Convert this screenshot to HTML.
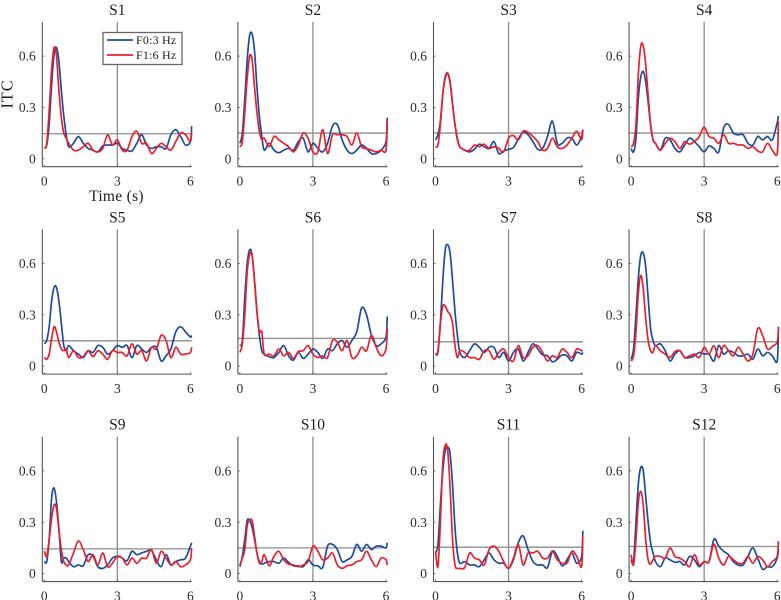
<!DOCTYPE html>
<html lang="en">
<head>
<meta charset="utf-8">
<title>ITC per subject</title>
<style>
html,body{margin:0;padding:0;background:#fff;}
svg{display:block;font-family:"Liberation Serif",serif;}
</style>
</head>
<body>
<svg id="chart" xmlns="http://www.w3.org/2000/svg" width="781" height="600" viewBox="0 0 781 600"></svg>
<script>
const subjects = ["S1","S2","S3","S4","S5","S6","S7","S8","S9","S10","S11","S12"];
const times = [0,.1,.2,.3,.4,.5,.6,.7,.8,.9,1,1.2,1.4,1.6,1.8,2,2.2,2.4,2.6,2.8,3,3.2,3.4,3.6,3.8,4,4.2,4.4,4.6,4.8,5,5.2,5.4,5.6,5.8,6,6.05];
const xTicks = [0,3,6];
const yTicks = [0,0.3,0.6];
const yTickLabels = ["0","0.3","0.6"];
const thresholds = [.146,.15,.15,.15,.148,.162,.142,.142,.144,.15,.154,.158];
const f0Series = [
 [.06,.08,.2,.43,.61,.65,.57,.4,.25,.14,.07,.09,.13,.09,.06,.05,.04,.075,.08,.08,.09,.06,.05,.045,.09,.14,.08,.06,.07,.07,.06,.14,.17,.13,.08,.1,.19],
 [.09,.15,.35,.58,.72,.73,.63,.42,.25,.13,.05,.09,.05,.035,.05,.06,.05,.1,.12,.04,.09,.06,.04,.09,.19,.2,.11,.05,.03,.05,.08,.06,.03,.03,.05,.1,.24],
 [.11,.14,.22,.38,.47,.5,.45,.32,.2,.11,.07,.05,.04,.055,.085,.07,.06,.1,.03,.045,.055,.065,.115,.155,.14,.1,.055,.06,.13,.22,.09,.09,.12,.12,.08,.13,.17],
 [.06,.04,.12,.36,.48,.51,.45,.33,.2,.11,.09,.05,.12,.11,.06,.04,.08,.12,.1,.07,.04,.075,.06,.04,.18,.2,.15,.14,.14,.09,.08,.13,.11,.13,.11,.21,.25],
 [.13,.15,.23,.38,.46,.46,.38,.25,.12,.09,.12,.09,.07,.05,.09,.08,.12,.11,.07,.09,.12,.11,.12,.05,.12,.1,.08,.11,.11,.03,.06,.1,.2,.23,.2,.17,.18],
 [.12,.15,.4,.6,.68,.65,.5,.32,.18,.09,.07,.055,.05,.08,.12,.06,.035,.08,.045,.07,.1,.08,.045,.1,.09,.13,.15,.11,.15,.2,.34,.3,.18,.12,.13,.17,.29],
 [.07,.08,.25,.5,.68,.71,.66,.5,.32,.18,.08,.05,.09,.13,.11,.08,.11,.11,.05,.08,.03,.08,.1,.03,.08,.13,.1,.065,.06,.025,.04,.065,.06,.03,.08,.07,.08],
 [.04,.1,.3,.52,.65,.66,.58,.4,.22,.15,.12,.13,.09,.03,.07,.09,.05,.05,.06,.08,.07,.07,.03,.12,.07,.09,.08,.06,.06,.07,.04,.1,.06,.08,.06,.03,.23],
 [.07,.07,.2,.44,.5,.42,.26,.07,.09,.09,.07,.04,.05,.045,.11,.1,.04,.03,.05,.09,.1,.09,.075,.13,.11,.12,.13,.135,.08,.04,.11,.05,.07,.08,.09,.16,.18],
 [.04,.1,.2,.31,.31,.27,.2,.12,.07,.055,.06,.07,.07,.06,.09,.065,.045,.045,.04,.08,.05,.045,.035,.16,.17,.14,.07,.08,.1,.17,.13,.17,.14,.16,.16,.15,.18],
 [.12,.17,.4,.6,.72,.74,.7,.52,.27,.12,.06,.07,.05,.05,.04,.08,.12,.08,.06,.06,.03,.08,.18,.22,.14,.07,.05,.05,.035,.13,.1,.045,.08,.12,.06,.1,.25],
 [.08,.07,.3,.53,.62,.6,.45,.3,.18,.12,.07,.04,.09,.08,.065,.07,.05,.1,.08,.04,.07,.07,.2,.16,.13,.11,.07,.05,.05,.1,.15,.09,.025,.04,.04,.09,.14]
];
const f1Series = [
 [.06,.09,.28,.52,.65,.6,.4,.24,.15,.12,.09,.05,.05,.07,.09,.05,.04,.06,.14,.08,.11,.05,.05,.13,.16,.09,.09,.03,.06,.09,.07,.05,.1,.15,.14,.1,.16],
 [.07,.1,.27,.47,.6,.58,.42,.27,.16,.11,.12,.07,.13,.11,.09,.07,.04,.08,.15,.12,.04,.04,.17,.03,.14,.14,.14,.13,.08,.15,.07,.06,.05,.04,.05,.05,.23],
 [.07,.08,.2,.38,.48,.5,.44,.32,.2,.12,.07,.05,.05,.08,.07,.085,.06,.07,.06,.04,.12,.135,.11,.16,.155,.13,.1,.05,.06,.12,.07,.06,.08,.12,.16,.11,.17],
 [.07,.09,.2,.5,.66,.66,.55,.37,.2,.11,.09,.05,.09,.12,.1,.06,.1,.085,.1,.13,.185,.13,.12,.09,.14,.09,.09,.08,.08,.06,.07,.045,.04,.09,.05,.03,.22],
 [.05,.04,.07,.16,.23,.2,.14,.1,.09,.1,.05,.09,.05,.055,.09,.055,.09,.07,.04,.09,.08,.08,.06,.13,.07,.09,.03,.11,.1,.18,.15,.05,.11,.07,.07,.08,.11],
 [.08,.13,.3,.55,.65,.65,.5,.32,.2,.2,.07,.07,.06,.1,.06,.08,.045,.085,.09,.12,.07,.05,.06,.05,.15,.14,.09,.15,.05,.06,.11,.09,.18,.11,.06,.1,.22],
 [.07,.09,.25,.35,.35,.32,.3,.25,.12,.05,.09,.08,.05,.05,.04,.09,.09,.04,.08,.1,.05,.03,.12,.05,.06,.11,.12,.08,.03,.06,.05,.1,.08,.05,.1,.09,.09],
 [.03,.06,.2,.43,.53,.45,.28,.15,.09,.08,.12,.09,.07,.05,.085,.09,.05,.06,.07,.05,.11,.07,.12,.05,.12,.09,.06,.11,.07,.03,.07,.22,.18,.1,.115,.14,.22],
 [.13,.1,.2,.32,.4,.38,.25,.14,.07,.05,.05,.12,.19,.14,.07,.11,.05,.12,.04,.06,.1,.09,.05,.09,.06,.09,.09,.14,.06,.13,.09,.05,.07,.04,.05,.08,.15],
 [.05,.09,.14,.28,.31,.31,.22,.12,.06,.07,.11,.045,.1,.13,.08,.055,.05,.04,.05,.07,.16,.13,.08,.09,.12,.05,.03,.045,.05,.07,.08,.13,.08,.04,.09,.08,.05],
 [.13,.04,.3,.65,.75,.72,.5,.2,.05,.03,.03,.035,.12,.09,.08,.05,.14,.16,.13,.07,.03,.09,.17,.05,.12,.12,.13,.09,.09,.13,.08,.06,.06,.13,.1,.04,.22],
 [.11,.05,.2,.42,.48,.4,.2,.08,.055,.08,.1,.1,.09,.15,.1,.09,.07,.04,.11,.05,.07,.07,.17,.09,.05,.1,.08,.06,.06,.1,.06,.1,.08,.04,.07,.1,.19]
];

const NS = "http://www.w3.org/2000/svg";
const chart = document.getElementById("chart");
const BLUE = "#1d4c9f", RED = "#e6222f", AXIS = "#555", GUIDE = "#8c8c8c", TEXT = "#2b2b2b";

function make(parent, tag, attrs, text) {
  const el = document.createElementNS(NS, tag);
  for (const k in attrs) el.setAttribute(k, attrs[k]);
  if (text !== undefined) el.textContent = text;
  parent.appendChild(el);
  return el;
}
function smoothPath(xs, ys) {
  let d = "M" + xs[0].toFixed(2) + " " + ys[0].toFixed(2);
  const n = xs.length;
  for (let i = 0; i < n - 1; i++) {
    const p0 = Math.max(i - 1, 0), p3 = Math.min(i + 2, n - 1);
    const c1x = xs[i] + (xs[i + 1] - xs[p0]) / 6, c1y = ys[i] + (ys[i + 1] - ys[p0]) / 6;
    const c2x = xs[i + 1] - (xs[p3] - xs[i]) / 6, c2y = ys[i + 1] - (ys[p3] - ys[i]) / 6;
    d += "C" + c1x.toFixed(2) + " " + c1y.toFixed(2) + " " + c2x.toFixed(2) + " " + c2y.toFixed(2) + " " + xs[i + 1].toFixed(2) + " " + ys[i + 1].toFixed(2);
  }
  return d;
}

subjects.forEach(function (subject, idx) {
  const col = idx % 4, row = Math.floor(idx / 4);
  const axisLeft = 42.3 + col * 195.6;
  const zeroY = 158.7 + row * 207.4;
  const xOf = function (t) { return axisLeft + 2 + t * 24.35; };
  const yOf = function (v) { return zeroY - v * 171; };
  const top = yOf(0.8), bottom = yOf(-0.047), right = xOf(6.05);
  const key = subject.toLowerCase();

  const g = make(chart, "g", {});
  
  

  const title = make(g, "text", { x: xOf(3), y: top - 7, "text-anchor": "middle", "font-size": 15.5, fill: "#1c1c1c" }, subject);
  
  

  const vline = make(g, "line", { x1: xOf(3), x2: xOf(3), y1: top, y2: bottom, stroke: GUIDE, "stroke-width": 1.3 });
  
  

  const hline = make(g, "line", { x1: axisLeft, x2: right, y1: yOf(thresholds[idx]), y2: yOf(thresholds[idx]), stroke: GUIDE, "stroke-width": 1.3 });
  
  

  const yAxis = make(g, "line", { x1: axisLeft, x2: axisLeft, y1: top, y2: bottom, stroke: AXIS, "stroke-width": 1.1 });
  
  

  const xAxis = make(g, "line", { x1: axisLeft, x2: right, y1: bottom, y2: bottom, stroke: AXIS, "stroke-width": 1.1 });
  
  

  xTicks.forEach(function (t) {
    const tick = make(g, "line", { x1: xOf(t), x2: xOf(t), y1: bottom, y2: bottom - 2, stroke: AXIS, "stroke-width": 0.8 });
    
    
    const label = make(g, "text", { x: xOf(t), y: bottom + 18.8, "text-anchor": "middle", "font-size": 13.5, fill: TEXT }, String(t));
    
    
  });

  yTicks.forEach(function (v, i) {
    const tick = make(g, "line", { x1: axisLeft, x2: axisLeft + 2, y1: yOf(v), y2: yOf(v), stroke: AXIS, "stroke-width": 0.8 });
    
    
    const label = make(g, "text", { x: axisLeft - 6.5, y: yOf(v) + 4.6, "text-anchor": "end", "font-size": 13.5, fill: TEXT }, yTickLabels[i]);
    
    
  });

  const xs = times.map(xOf);
  const blue = make(g, "path", { d: smoothPath(xs, f0Series[idx].map(yOf)), fill: "none", stroke: BLUE, "stroke-width": 1.7, "stroke-linejoin": "round" });
  
  
  const red = make(g, "path", { d: smoothPath(xs, f1Series[idx].map(yOf)), fill: "none", stroke: RED, "stroke-width": 1.7, "stroke-linejoin": "round" });
  
  
});

const yTitle = make(chart, "text", { transform: "translate(12.5 94) rotate(-90)", "text-anchor": "middle", "font-size": 16.5, "letter-spacing": 0.8, fill: "#1c1c1c" }, "ITC");



const xTitle = make(chart, "text", { x: 116.5, y: 201, "text-anchor": "middle", "font-size": 15.5, "letter-spacing": 0.3, fill: "#1c1c1c" }, "Time (s)");



const legend = make(chart, "g", {});


const legendBox = make(legend, "rect", { x: 103, y: 32.5, width: 79, height: 32, fill: "#fff", stroke: "#666", "stroke-width": 1.3 });


const legendLine0 = make(legend, "line", { x1: 107, x2: 133, y1: 40, y2: 40, stroke: BLUE, "stroke-width": 1.7 });


const legendText0 = make(legend, "text", { x: 136, y: 44, "font-size": 12, "letter-spacing": 0.2, fill: "#1c1c1c" }, "F0:3 Hz");


const legendLine1 = make(legend, "line", { x1: 107, x2: 133, y1: 55, y2: 55, stroke: RED, "stroke-width": 1.7 });


const legendText1 = make(legend, "text", { x: 136, y: 59, "font-size": 12, "letter-spacing": 0.2, fill: "#1c1c1c" }, "F1:6 Hz");


</script>
</body>
</html>
